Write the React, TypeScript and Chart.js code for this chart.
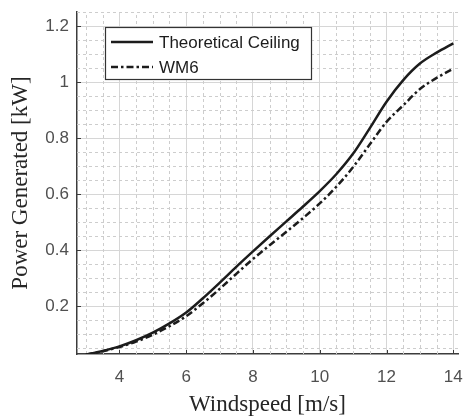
import React, { useEffect, useRef } from "react";
import { Chart, registerables } from "chart.js";

Chart.register(...registerables);

// ---- data ----
const WINDSPEED = [3, 3.5, 4, 4.5, 5, 5.5, 6, 6.5, 7, 7.5, 8, 8.5, 9, 9.5, 10, 10.5, 11, 11.5, 12, 12.5, 13, 13.5, 14];
const THEORETICAL_CEILING = [0.028, 0.041, 0.057, 0.079, 0.106, 0.139, 0.178, 0.229, 0.284, 0.341, 0.396, 0.45, 0.503, 0.556, 0.611, 0.672, 0.745, 0.836, 0.93, 1.007, 1.066, 1.105, 1.138];
const WM6 = [0.028, 0.04, 0.055, 0.074, 0.099, 0.129, 0.165, 0.211, 0.262, 0.316, 0.369, 0.418, 0.466, 0.515, 0.567, 0.627, 0.697, 0.778, 0.858, 0.917, 0.975, 1.015, 1.048];
const SERIES_LABELS = ["Theoretical Ceiling", "WM6"];
const X_TICKS = [4, 6, 8, 10, 12, 14];
const Y_TICKS = [0.2, 0.4, 0.6, 0.8, 1, 1.2];
const X_TITLE = "Windspeed [m/s]";
const Y_TITLE = "Power Generated [kW]";

const X_MIN = 2.73;
const X_MAX = 14.14;
const Y_MIN = 0.03;
const Y_MAX = 1.25;
const X_MINOR_STEP = 0.5;
const Y_MINOR_STEP = 0.05;

const LINE_COLOR = "#1c1c1c";
const WM6_DASH = [7, 3, 2.5, 3];

const minorGridPlugin = {
  id: "minorGrid",
  beforeDatasetsDraw(chart: any) {
    const { ctx, chartArea, scales } = chart;
    const xs = scales.x;
    const ys = scales.y;
    ctx.save();
    ctx.strokeStyle = "#cdcdcd";
    ctx.lineWidth = 1;
    ctx.setLineDash([3, 3]);
    for (let i = 0; ; i++) {
      const v = Math.ceil(X_MIN / X_MINOR_STEP) * X_MINOR_STEP + i * X_MINOR_STEP;
      if (v > X_MAX + 1e-9) break;
      if (X_TICKS.some((t) => Math.abs(t - v) < 1e-6)) continue;
      const px = Math.round(xs.getPixelForValue(v)) + 0.5;
      ctx.beginPath();
      ctx.moveTo(px, chartArea.bottom);
      ctx.lineTo(px, chartArea.top);
      ctx.stroke();
    }
    for (let i = 0; ; i++) {
      const v = Math.ceil(Y_MIN / Y_MINOR_STEP) * Y_MINOR_STEP + i * Y_MINOR_STEP;
      if (v > Y_MAX + 1e-9) break;
      if (Y_TICKS.some((t) => Math.abs(t - v) < 1e-6)) continue;
      const py = Math.round(ys.getPixelForValue(v)) + 0.5;
      ctx.beginPath();
      ctx.moveTo(chartArea.left, py);
      ctx.lineTo(chartArea.right, py);
      ctx.stroke();
    }
    // inward major tick marks
    ctx.setLineDash([]);
    ctx.strokeStyle = "#3c3c3c";
    X_TICKS.forEach((v) => {
      const px = Math.round(xs.getPixelForValue(v)) + 0.5;
      ctx.beginPath();
      ctx.moveTo(px, chartArea.bottom);
      ctx.lineTo(px, chartArea.bottom - 4);
      ctx.stroke();
    });
    Y_TICKS.forEach((v) => {
      const py = Math.round(ys.getPixelForValue(v)) + 0.5;
      ctx.beginPath();
      ctx.moveTo(chartArea.left, py);
      ctx.lineTo(chartArea.left + 4, py);
      ctx.stroke();
    });
    ctx.restore();
  },
};

const boxLegendPlugin = {
  id: "boxLegend",
  afterDatasetsDraw(chart: any) {
    const { ctx, chartArea } = chart;
    const left = chartArea.left + 28;
    const top = chartArea.top + 15;
    const width = 207;
    const height = 53;
    ctx.save();
    ctx.fillStyle = "#ffffff";
    ctx.fillRect(left, top, width, height);
    ctx.strokeStyle = "#333333";
    ctx.lineWidth = 1.2;
    ctx.setLineDash([]);
    ctx.strokeRect(left + 0.5, top + 0.5, width - 1, height - 1);
    ctx.font = "17px 'Liberation Sans', Arial, sans-serif";
    ctx.textBaseline = "middle";
    ctx.fillStyle = "#1c1c1c";
    chart.data.datasets.forEach((ds: any, i: number) => {
      const cy = top + 15 + i * 25;
      ctx.beginPath();
      ctx.strokeStyle = LINE_COLOR;
      ctx.lineWidth = ds.borderWidth;
      ctx.setLineDash(ds.borderDash || []);
      ctx.moveTo(left + 6, cy);
      ctx.lineTo(left + 48, cy);
      ctx.stroke();
      ctx.setLineDash([]);
      ctx.fillText(ds.label, left + 54, cy + 1);
    });
    ctx.restore();
  },
};

export default function App() {
  const canvasRef = useRef<HTMLCanvasElement | null>(null);

  useEffect(() => {
    const canvas = canvasRef.current;
    if (!canvas) return;
    const chart = new Chart(canvas, {
      type: "line",
      data: {
        labels: WINDSPEED,
        datasets: [
          {
            label: SERIES_LABELS[0],
            data: WINDSPEED.map((x, i) => ({ x, y: THEORETICAL_CEILING[i] })),
            borderColor: LINE_COLOR,
            borderWidth: 2.5,
            pointRadius: 0,
            fill: false,
            cubicInterpolationMode: "monotone",
          },
          {
            label: SERIES_LABELS[1],
            data: WINDSPEED.map((x, i) => ({ x, y: WM6[i] })),
            borderColor: LINE_COLOR,
            borderWidth: 2.5,
            borderDash: WM6_DASH,
            pointRadius: 0,
            fill: false,
            cubicInterpolationMode: "monotone",
          },
        ],
      },
      options: {
        animation: false,
        responsive: false,
        devicePixelRatio: 1,
        layout: { padding: { left: 0, right: 7, top: 12, bottom: 0 } },
        plugins: {
          legend: { display: false },
          tooltip: { enabled: false },
        },
        scales: {
          x: {
            type: "linear",
            min: X_MIN,
            max: X_MAX,
            afterFit: (s: any) => {
              s.height = 63;
              s.paddingLeft = 0;
              s.paddingRight = 0;
            },
            afterBuildTicks: (s: any) => {
              s.ticks = X_TICKS.map((v) => ({ value: v }));
            },
            grid: { color: "#d6d6d6", lineWidth: 1, drawTicks: false },
            border: { display: true, color: "#3c3c3c", width: 1.5 },
            ticks: {
              padding: 13,
              color: "#505050",
              font: { family: "'Liberation Sans', Arial, sans-serif", size: 17 },
              maxRotation: 0,
              callback: (v: any) => String(v),
            },
            title: {
              display: true,
              text: X_TITLE,
              color: "#262626",
              font: { family: "'Liberation Serif', 'Times New Roman', serif", size: 23, lineHeight: 1 },
              padding: { top: 0, bottom: 1 },
            },
          },
          y: {
            type: "linear",
            min: Y_MIN,
            max: Y_MAX,
            afterFit: (s: any) => {
              s.width = 77;
              s.paddingTop = 0;
              s.paddingBottom = 0;
            },
            afterBuildTicks: (s: any) => {
              s.ticks = Y_TICKS.map((v) => ({ value: v }));
            },
            grid: { color: "#d6d6d6", lineWidth: 1, drawTicks: false },
            border: { display: true, color: "#3c3c3c", width: 1.5 },
            ticks: {
              padding: 8,
              color: "#505050",
              font: { family: "'Liberation Sans', Arial, sans-serif", size: 17 },
              callback: (v: any) => String(Number(v)),
            },
            title: {
              display: true,
              text: Y_TITLE,
              color: "#262626",
              font: { family: "'Liberation Serif', 'Times New Roman', serif", size: 23, lineHeight: 1 },
              padding: { top: 9, bottom: 0 },
            },
          },
        },
      },
      plugins: [minorGridPlugin, boxLegendPlugin],
    } as any);
    return () => chart.destroy();
  }, []);

  return (
    <div style={{ position: "absolute", left: 0, top: 0, width: 465, height: 417, background: "#ffffff" }}>
      <canvas ref={canvasRef} width={465} height={417} style={{ display: "block", width: 465, height: 417 }} />
    </div>
  );
}
